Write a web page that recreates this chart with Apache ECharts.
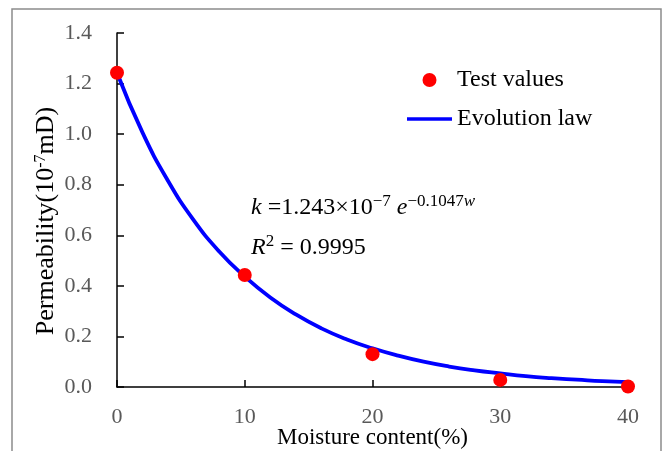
<!DOCTYPE html>
<html>
<head>
<meta charset="utf-8">
<script src="https://cdn.jsdelivr.net/npm/echarts@6/dist/echarts.min.js"></script>
<style>
  html, body { margin: 0; padding: 0; background: #fff; }
  #main { width: 662px; height: 451px; }
</style>
</head>
<body>
<div id="main"></div>
<script>
// measured points
var testW = [0, 10, 20, 30, 40];
var testK = [1.243, 0.443, 0.13, 0.028, 0.002];
// fitted curve
var lawW = [0, 2, 4, 6, 8, 10, 12, 14, 16, 18, 20, 22, 24, 26, 28, 30, 32, 34, 36, 38, 40];
var lawK = [1.243, 1.006, 0.815, 0.66, 0.536, 0.437, 0.354, 0.287, 0.232, 0.188, 0.153,
            0.124, 0.1, 0.081, 0.066, 0.054, 0.043, 0.035, 0.029, 0.023, 0.019];

var font = '"Liberation Serif", "Times New Roman", serif';

var chart = echarts.init(document.getElementById('main'));
chart.setOption({
  animation: false,
  backgroundColor: '#fff',
  grid: { left: 117, right: 34, top: 33, bottom: 64, outerBoundsMode: 'none' },
  legend: {
    orient: 'vertical',
    left: 402,
    top: 63,
    itemWidth: 45,
    itemHeight: 14,
    itemGap: 15,
    textStyle: { fontFamily: font, fontSize: 24, lineHeight: 24, color: '#000' },
    data: [
      { name: 'Test values', icon: 'circle' },
      { name: 'Evolution law', icon: 'path://M0,0 L45,0 L45,3.5 L0,3.5 Z' }
    ]
  },
  xAxis: {
    type: 'value',
    min: 0, max: 40, interval: 10,
    name: 'Moisture content(%)',
    nameLocation: 'middle',
    nameGap: 39,
    nameMoveOverlap: false,
    nameTextStyle: { fontFamily: font, fontSize: 23, color: '#000' },
    axisLine: { lineStyle: { color: '#000', width: 1.5 } },
    axisTick: { inside: true, length: 7, lineStyle: { color: '#000', width: 1.5 } },
    axisLabel: { margin: 19, fontFamily: font, fontSize: 22, color: '#595959' },
    splitLine: { show: false }
  },
  yAxis: {
    type: 'value',
    min: 0, max: 1.4, interval: 0.2,
    name: 'Permeability(10{sup|-7}mD)',
    nameLocation: 'middle',
    nameGap: 57,
    nameMoveOverlap: false,
    nameTextStyle: {
      fontFamily: font, fontSize: 26, color: '#000',
      padding: [0, 22, 0, 0],
      rich: { sup: { fontFamily: font, fontSize: 16, color: '#000', verticalAlign: 'top', padding: [0, 0, 11, 0] } }
    },
    axisLine: { show: true, lineStyle: { color: '#000', width: 1.5 } },
    axisTick: { show: true, inside: true, length: 7, lineStyle: { color: '#000', width: 1.5 } },
    axisLabel: {
      margin: 25, fontFamily: font, fontSize: 22, color: '#595959',
      formatter: function (v) { return v.toFixed(1); }
    },
    splitLine: { show: false }
  },
  graphic: [{
    type: 'text',
    left: 251,
    top: 193,
    style: {
      text: '{i|k} =1.243×10{sup|−7} {i|e}{sup|−0.1047}{supi|w}',
      fontFamily: font,
      fontSize: 24,
      fill: '#000',
      rich: {
        i: { fontFamily: font, fontStyle: 'italic', fontSize: 24 },
        sup: { fontFamily: font, fontSize: 17, verticalAlign: 'top', padding: [0, 0, 12, 0] },
        supi: { fontFamily: font, fontSize: 17, fontStyle: 'italic', verticalAlign: 'top', padding: [0, 0, 12, 0] }
      }
    }
  }, {
    type: 'text',
    left: 251,
    top: 233,
    style: {
      text: '{i|R}{sup|2} = 0.9995',
      fontFamily: font,
      fontSize: 24,
      fill: '#000',
      rich: {
        i: { fontFamily: font, fontStyle: 'italic', fontSize: 24 },
        sup: { fontFamily: font, fontSize: 17, verticalAlign: 'top', padding: [0, 0, 12, 0] }
      }
    }
  }, {
    type: 'rect',
    shape: { x: 12, y: 9, width: 649, height: 460 },
    style: { fill: 'none', stroke: '#8c8c8c', lineWidth: 1.5 },
    silent: true
  }],
  series: [{
    name: 'Evolution law',
    type: 'line',
    smooth: true,
    symbol: 'none',
    data: lawW.map(function (w, i) { return [w, lawK[i]]; }),
    lineStyle: { color: '#0000ff', width: 3.8 },
    itemStyle: { color: '#0000ff' },
    z: 2
  }, {
    name: 'Test values',
    type: 'scatter',
    symbol: 'circle',
    symbolSize: 14,
    data: testW.map(function (w, i) { return [w, testK[i]]; }),
    itemStyle: { color: '#ff0000', opacity: 1 },
    z: 3
  }]
});
</script>
</body>
</html>
